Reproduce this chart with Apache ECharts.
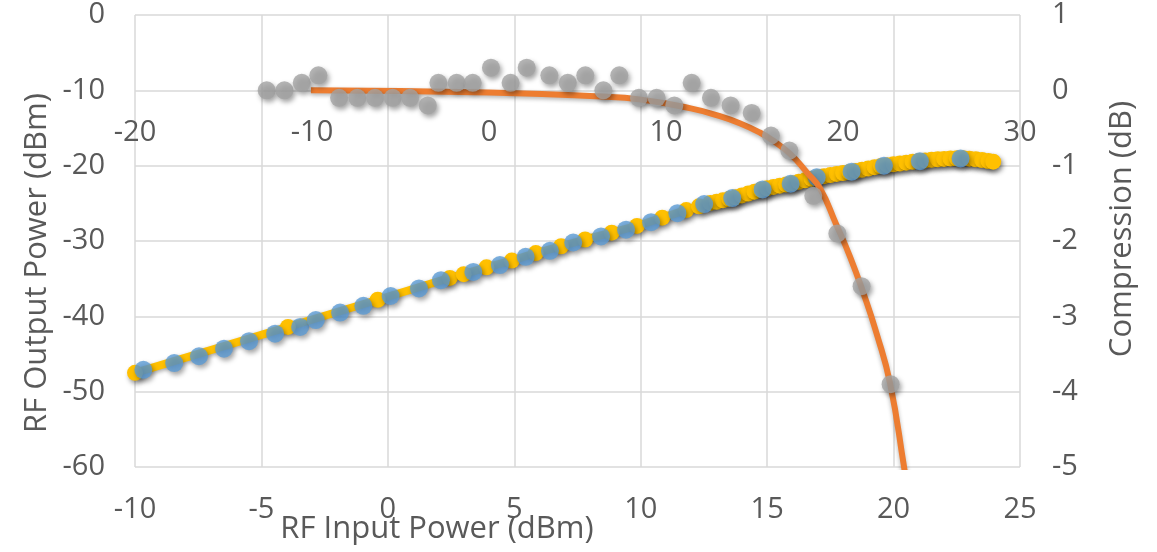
<!DOCTYPE html>
<html>
<head>
<meta charset="utf-8">
<title>RF Output Power and Compression</title>
<script src="https://cdn.jsdelivr.net/npm/echarts@6/dist/echarts.min.js"></script>
<style>
html, body { margin: 0; padding: 0; background: #ffffff; }
#chart { width: 1157px; height: 552px; }
</style>
</head>
<body>
<div id="chart"></div>
<script>
// measured output power (blue dots), bottom axis / left axis
var inputPower = [-9.67, -8.45, -7.47, -6.48, -5.49, -4.46, -3.47, -2.85, -1.89, -0.97, 0.11, 1.23, 2.1, 3.38, 4.43, 5.45, 6.41, 7.33, 8.43, 9.42, 10.41, 11.45, 12.51, 13.62, 14.82, 15.93, 16.96, 18.34, 19.62, 21.04, 22.65];
var outputPower = [-47.1, -46.2, -45.3, -44.3, -43.3, -42.3, -41.4, -40.5, -39.5, -38.6, -37.3, -36.3, -35.2, -34.1, -33.2, -32.1, -31.3, -30.2, -29.4, -28.5, -27.5, -26.3, -25.1, -24.3, -23.15, -22.4, -21.55, -20.8, -20.0, -19.4, -19.05];

// fine sweep (yellow line + dots)
var sweepInput = [-10.0, -3.95, -0.4, 2.45, 3.0, 3.9, 4.9, 5.85, 6.85, 7.8, 8.85, 9.85, 10.85, 11.8, 12.3, 12.75, 13.0, 13.25, 13.5, 13.75, 14.0, 14.25, 14.5, 14.75, 15.0, 15.25, 15.5, 15.75, 16.0, 16.25, 16.5, 16.75, 17.0, 17.25, 17.5, 17.75, 18.0, 18.25, 18.5, 18.75, 19.0, 19.25, 19.5, 19.75, 20.0, 20.25, 20.5, 20.75, 21.0, 21.25, 21.5, 21.75, 22.0, 22.25, 22.5, 22.75, 23.0, 23.25, 23.5, 23.75, 23.94];
var sweepOutput = [-47.5, -41.4, -37.8, -34.9, -34.4, -33.5, -32.6, -31.6, -30.7, -29.8, -28.9, -28.0, -26.9, -25.9, -25.4, -24.95, -24.8, -24.6, -24.4, -24.2, -23.95, -23.7, -23.45, -23.2, -23.0, -22.82, -22.65, -22.5, -22.33, -22.15, -21.95, -21.73, -21.55, -21.4, -21.25, -21.1, -20.97, -20.85, -20.7, -20.55, -20.38, -20.2, -20.05, -19.93, -19.82, -19.72, -19.6, -19.48, -19.38, -19.3, -19.22, -19.15, -19.1, -19.05, -19.02, -19.03, -19.07, -19.15, -19.25, -19.38, -19.47];

// compression points (grey), secondary axes
var compInput = [-12.56, -11.56, -10.58, -9.64, -8.47, -7.44, -6.44, -5.44, -4.46, -3.46, -2.86, -1.83, -0.92, 0.11, 1.22, 2.13, 3.41, 4.45, 5.44, 6.46, 7.36, 8.47, 9.47, 10.47, 11.45, 12.54, 13.65, 14.84, 15.93, 16.97, 18.32, 19.68, 21.05, 22.69];
var compValue = [0, 0, 0.1, 0.2, -0.1, -0.1, -0.1, -0.1, -0.1, -0.2, 0.1, 0.1, 0.1, 0.3, 0.1, 0.3, 0.2, 0.1, 0.2, 0, 0.2, -0.1, -0.1, -0.2, 0.1, -0.1, -0.2, -0.3, -0.6, -0.8, -1.4, -1.9, -2.6, -3.9];

// fitted compression curve (orange)
var fitInput = [-10.06, -5, 0, 3, 6, 8.5, 11.4, 13, 14.2, 15.3, 16, 17, 18, 18.7, 19.6, 20.4, 21.15, 21.9, 22.66, 23.45, 23.6];
var fitValue = [0, -0.01, -0.03, -0.05, -0.08, -0.12, -0.24, -0.34, -0.44, -0.56, -0.66, -0.84, -1.1, -1.3, -1.77, -2.21, -2.69, -3.23, -3.89, -5.0, -5.25];

var textColor = '#595959';
var gridColor = '#D9D9D9';
var fontName = '"Open Sans", "DejaVu Sans", sans-serif';
var tickSize = 29;
var titleSize = 31;

function pairs(xs, ys) {
    var out = [];
    for (var i = 0; i < xs.length; i++) {
        out.push([xs[i], ys[i]]);
    }
    return out;
}

//marker look with the drop shadow
function markerStyle(color) {
    return {
        color: color,
        shadowColor: 'rgba(0,0,0,0.45)',
        shadowBlur: 5,
        shadowOffsetX: 2,
        shadowOffsetY: 3
    };
}

function labelStyle(margin) {
    return {color: textColor, fontSize: tickSize, fontFamily: fontName, margin: margin};
}

function axisTitle(text, x, y, rotated) {
    return {
        type: 'text',
        x: x,
        y: y,
        rotation: rotated ? Math.PI / 2 : 0,
        style: {
            text: text,
            fill: textColor,
            font: titleSize + 'px ' + fontName,
            align: 'center',
            verticalAlign: 'middle'
        }
    };
}

var chart = echarts.init(document.getElementById('chart'), null, {renderer: 'canvas'});

var option = {
    animation: false,
    grid: {left: 135, right: 137, top: 15, bottom: 85},
    xAxis: [
        {
            type: 'value', min: -10, max: 25, interval: 5, position: 'bottom',
            axisLine: {show: false, onZero: false},
            axisTick: {show: false},
            axisLabel: labelStyle(28),
            splitLine: {lineStyle: {color: gridColor, width: 1.5}}
        },
        {
            // secondary x axis sits on the compression = 0 line
            type: 'value', min: -20, max: 30, interval: 10, position: 'bottom',
            offset: -376.5,
            axisLine: {show: false, onZero: false},
            axisTick: {show: false},
            axisLabel: labelStyle(28),
            splitLine: {show: false}
        }
    ],
    yAxis: [
        {
            type: 'value', min: -60, max: 0, interval: 10, position: 'left',
            axisLine: {show: false, onZero: false},
            axisTick: {show: false},
            axisLabel: labelStyle(30),
            splitLine: {lineStyle: {color: gridColor, width: 1.5}}
        },
        {
            type: 'value', min: -5, max: 1, interval: 1, position: 'right',
            axisLine: {show: false, onZero: false},
            axisTick: {show: false},
            axisLabel: labelStyle(32),
            splitLine: {show: false}
        }
    ],
    graphic: [
        axisTitle('RF Input Power (dBm)', 437, 529, false),
        axisTitle('RF Output Power (dBm)', 37, 263, true),
        axisTitle('Compression (dB)', 1122, 229, true)
    ],
    series: [
        {
            name: 'Sweep',
            type: 'line',
            xAxisIndex: 0,
            yAxisIndex: 0,
            data: pairs(sweepInput, sweepOutput),
            symbol: 'circle',
            symbolSize: 16,
            itemStyle: markerStyle('#FFC000'),
            lineStyle: {color: '#FFC000', width: 8, shadowColor: 'rgba(0,0,0,0.35)', shadowBlur: 4, shadowOffsetY: 2},
            z: 2
        },
        {
            name: 'Output',
            type: 'scatter',
            xAxisIndex: 0,
            yAxisIndex: 0,
            data: pairs(inputPower, outputPower),
            symbolSize: 18,
            itemStyle: markerStyle('#5B9BD5'),
            z: 3
        },
        {
            name: 'Fit',
            type: 'line',
            xAxisIndex: 1,
            yAxisIndex: 1,
            data: pairs(fitInput, fitValue),
            smooth: 0.5,
            showSymbol: false,
            lineStyle: {color: '#ED7D31', width: 6, shadowColor: 'rgba(0,0,0,0.3)', shadowBlur: 4, shadowOffsetY: 2},
            z: 4
        },
        {
            name: 'Compression',
            type: 'scatter',
            xAxisIndex: 1,
            yAxisIndex: 1,
            data: pairs(compInput, compValue),
            symbolSize: 18,
            itemStyle: markerStyle('#A2A2A2'),
            z: 5
        }
    ]
};

chart.setOption(option);
</script>
</body>
</html>
